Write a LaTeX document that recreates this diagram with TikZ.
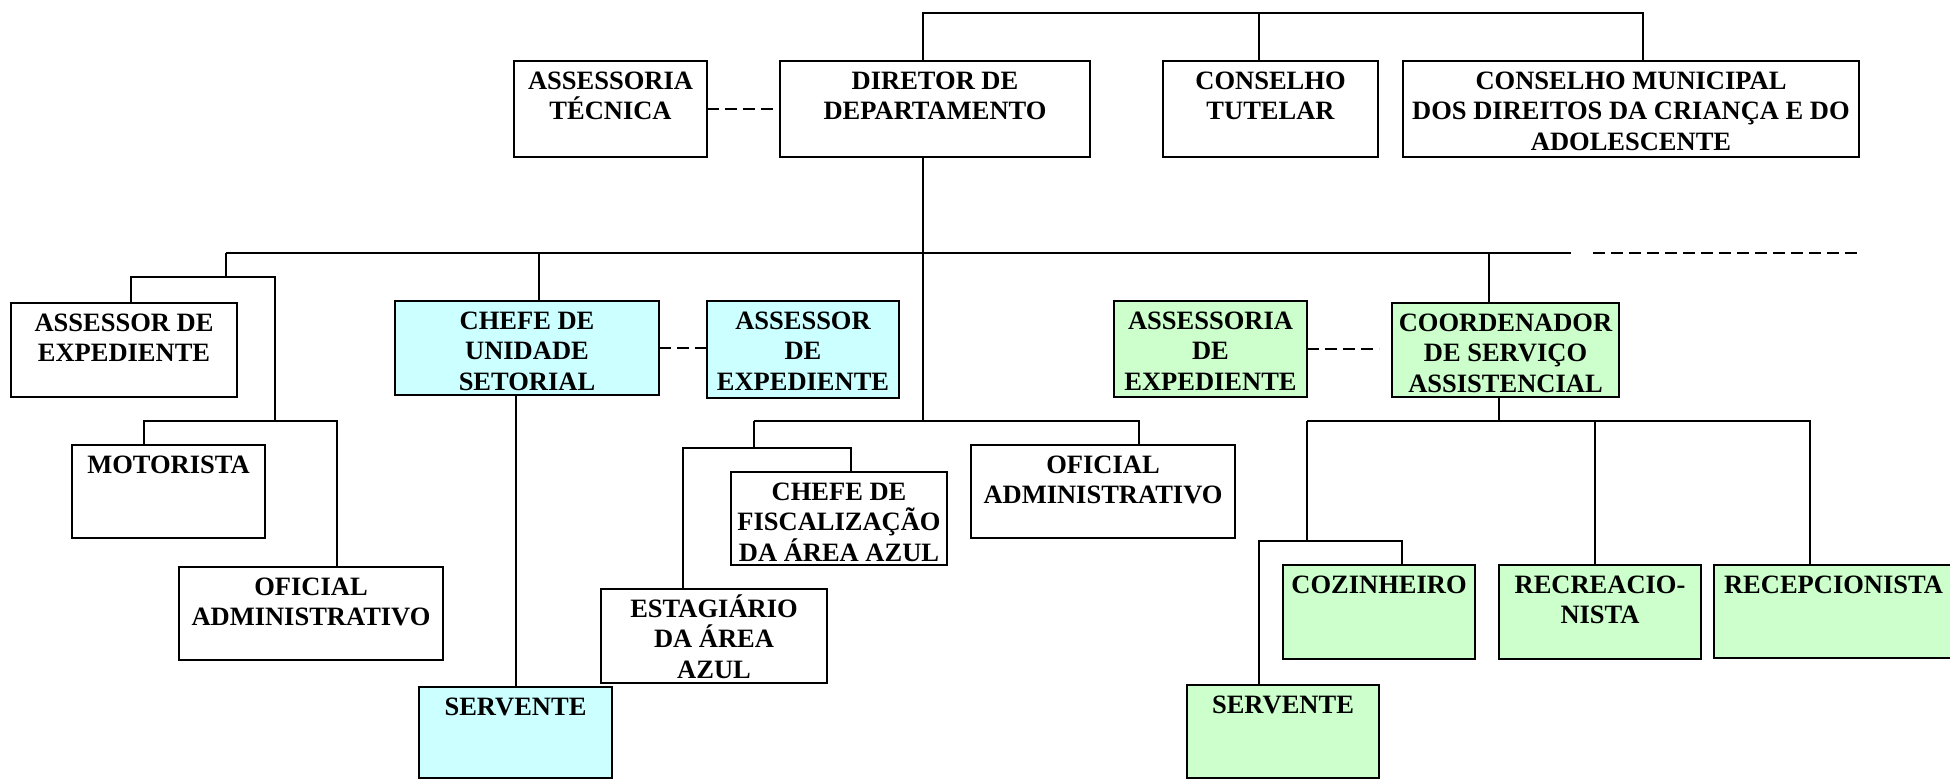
\documentclass[tikz,border=0pt]{standalone}
\usepackage{fontspec}
\setmainfont{Liberation Serif}
\definecolor{lblue}{HTML}{CCFFFF}
\definecolor{lgreen}{HTML}{CCFFCC}
\tikzset{
 obox/.style={draw, line width=2.1pt, rectangle, inner sep=0pt, outer sep=0pt},
 otext/.style={inner sep=0pt, align=center, font=\fontsize{26.5}{30.5}\selectfont\bfseries},
 conn/.style={line width=1.6pt},
 dsh/.style={line width=1.6pt, dash pattern=on 12pt off 6pt}
}
\newcommand\orgbox[7]{%
 \node[obox, fill=#6, minimum width={(#4-#2)*1pt}, minimum height={(#5-#3)*1pt}] (#1) at ({(#2+#4)/2},{(#3+#5)/2}) {};
 \node[otext, anchor=north] (#1-t) at ([yshift=-4.2pt]#1.north) {\rule{0pt}{0.9em}#7};
}
\begin{document}
\begin{tikzpicture}[x=1pt,y=-1pt]
\useasboundingbox[fill=white] (0,0) rectangle (1950,780);
% boxes
\orgbox{asstec}{514}{61}{707}{157}{white}{ASSESSORIA\\TÉCNICA}
\orgbox{dir}{780}{61}{1090}{157}{white}{DIRETOR DE\\DEPARTAMENTO}
\orgbox{ct}{1163}{61}{1378}{157}{white}{CONSELHO\\TUTELAR}
\orgbox{cm}{1403}{61}{1859}{157}{white}{CONSELHO MUNICIPAL\\DOS DIREITOS DA CRIANÇA E DO\\ADOLESCENTE}
\orgbox{aexp}{11}{303}{237}{397}{white}{ASSESSOR DE\\EXPEDIENTE}
\orgbox{mot}{72}{445}{265}{538}{white}{MOTORISTA}
\orgbox{ofl}{179}{567}{443}{660}{white}{OFICIAL\\ADMINISTRATIVO}
\orgbox{chu}{395}{301}{659}{395}{lblue}{CHEFE DE\\UNIDADE\\SETORIAL}
\orgbox{aexpb}{707}{301}{899}{398}{lblue}{ASSESSOR\\DE\\EXPEDIENTE}
\orgbox{servb}{419}{687}{612}{778}{lblue}{SERVENTE}
\orgbox{cfisc}{731}{472}{947}{565}{white}{CHEFE DE\\FISCALIZAÇÃO\\DA ÁREA AZUL}
\orgbox{estag}{601}{589}{827}{683}{white}{ESTAGIÁRIO\\DA ÁREA\\AZUL}
\orgbox{ofm}{971}{445}{1235}{538}{white}{OFICIAL\\ADMINISTRATIVO}
\orgbox{assg}{1114}{301}{1307}{397}{lgreen}{ASSESSORIA\\DE\\EXPEDIENTE}
\orgbox{coord}{1392}{303}{1619}{397}{lgreen}{COORDENADOR\\DE SERVIÇO\\ASSISTENCIAL}
\orgbox{coz}{1283}{565}{1475}{659}{lgreen}{COZINHEIRO}
\orgbox{recr}{1499}{565}{1701}{659}{lgreen}{RECREACIO-\\NISTA}
\orgbox{recp}{1714}{565}{1953}{658}{lgreen}{RECEPCIONISTA}
\orgbox{servg}{1187}{685}{1379}{778}{lgreen}{SERVENTE}
% junction coordinates
\coordinate (tl) at (923,13);
\coordinate (tm) at (1259,13);
\coordinate (tr) at (1643,13);
\coordinate (ml) at (226,253);
\coordinate (mr) at (1571,253);
\coordinate (dl) at (1593,253);
\coordinate (dr) at (1859,253);
\coordinate (a1) at (226,277);
\coordinate (a2) at (131,277);
\coordinate (a3) at (275,277);
\coordinate (a4) at (275,421);
\coordinate (a5) at (144,421);
\coordinate (a6) at (337,421);
\coordinate (b1) at (539,253);
\coordinate (b2) at (516,400);
\coordinate (c1) at (923,421);
\coordinate (c2) at (754,421);
\coordinate (c3) at (1139,421);
\coordinate (c4) at (754,448);
\coordinate (c5) at (683,448);
\coordinate (c6) at (851,448);
\coordinate (r1) at (1489,253);
\coordinate (r2) at (1499,421);
\coordinate (r3) at (1307,421);
\coordinate (r4) at (1810,421);
\coordinate (r5) at (1595,421);
\coordinate (r6) at (1307,541);
\coordinate (r7) at (1259,541);
\coordinate (r8) at (1402,541);
\coordinate (r9) at (1379,349);
% connectors
\draw[conn] (dir.north -| tl) -- (tl) -- (tr) -- (cm.north -| tr);
\draw[conn] (tm) -- (ct.north -| tm);
\draw[dsh] (asstec.east) -- (dir.west);
\draw[conn] (dir.south -| tl) -- (c1);
\draw[conn] (ml) -- (mr);
\draw[dsh] (dl) -- (dr);
\draw[conn] (ml) -- (a1);
\draw[conn] (aexp.north -| a2) |- (a3) -- (a4);
\draw[conn] (mot.north -| a5) |- (a6) -- (ofl.north -| a6);
\draw[conn] (b1) -- (chu.north -| b1);
\draw[conn] (chu.south -| b2) -- (servb.north -| b2);
\draw[dsh] (chu.east) -- (chu.east -| aexpb.west);
\draw[conn] (c2) -- (c3) -- (ofm.north -| c3);
\draw[conn] (c2) -- (c4);
\draw[conn] (estag.north -| c5) |- (c6) -- (cfisc.north -| c6);
\draw[conn] (r1) -- (coord.north -| r1);
\draw[conn] (coord.south -| r2) -- (r2);
\draw[conn] (r3) -- (r4) -- (recp.north -| r4);
\draw[conn] (r5) -- (recr.north -| r5);
\draw[conn] (r3) -- (r6);
\draw[conn] (servg.north -| r7) |- (r8) -- (coz.north -| r8);
\draw[dsh] (assg.east) -- (r9);
\end{tikzpicture}
\end{document}
